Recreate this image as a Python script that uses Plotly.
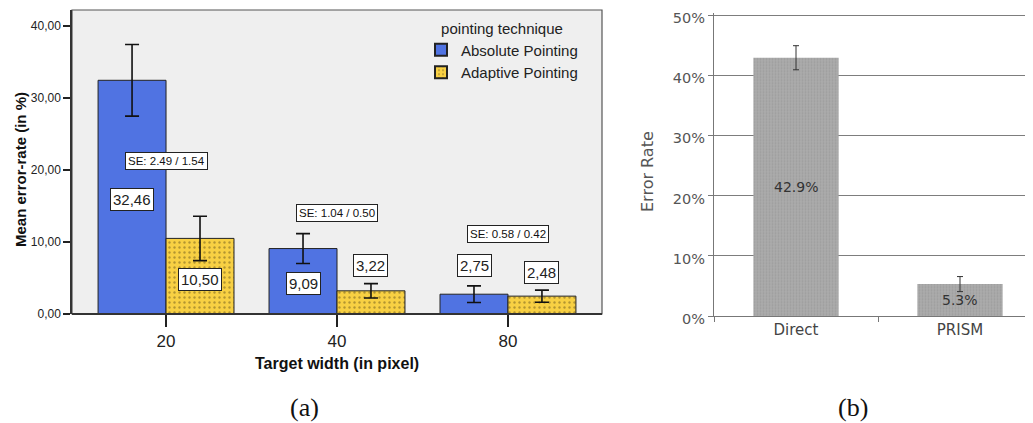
import plotly.graph_objects as go

# ---------------- data: panel (a) ----------------
widths = ["20", "40", "80"]
absolute_vals = [32.46, 9.09, 2.75]
adaptive_vals = [10.50, 3.22, 2.48]
absolute_se = [2.49, 1.04, 0.58]
adaptive_se = [1.54, 0.50, 0.42]
absolute_labels = ["32,46", "9,09", "2,75"]
adaptive_labels = ["10,50", "3,22", "2,48"]
se_labels = ["SE: 2.49 / 1.54", "SE: 1.04 / 0.50", "SE: 0.58 / 0.42"]
y_ticks_a = [0, 10, 20, 30, 40]
y_ticktext_a = ["0,00", "10,00", "20,00", "30,00", "40,00"]

# ---------------- data: panel (b) ----------------
techniques = ["Direct", "PRISM"]
error_rates = [0.429, 0.053]
error_err = [0.020, 0.0125]
rate_labels = ["42.9%", "5.3%"]
y_ticks_b = [0, 0.1, 0.2, 0.3, 0.4, 0.5]

# label placement (layout only)
abs_label_y = [15.97, 4.3, 6.67]
ada_label_y = [4.86, 6.67, 5.83]
se_label_y = [21.25, 14.0, 11.1]
rate_label_y = [0.214, 0.026]

# page body has an 8px margin: lay out in screen pixels, shifted by it
OFF = 8
W, H = 1033 - OFF, 423 - OFF


def px(x):
    return (x - OFF) / W


def py(y):
    return 1 - (y - OFF) / H


BLUE = "#5073e2"
YELLOW = "#f8d043"
SANS = "Liberation Sans, Arial, sans-serif"
VERD = "DejaVu Sans, Verdana, sans-serif"
SERIF = "Liberation Serif, DejaVu Serif, serif"

fig = go.Figure()

fig.add_trace(go.Bar(
    x=widths, y=absolute_vals, name="Absolute Pointing",
    marker=dict(color=BLUE, line=dict(color="#222", width=1)),
    error_y=dict(type="data", array=[2 * s for s in absolute_se],
                 color="#111", thickness=1.6, width=7),
    xaxis="x", yaxis="y",
))
fig.add_trace(go.Bar(
    x=widths, y=adaptive_vals, name="Adaptive Pointing",
    marker=dict(color=YELLOW, line=dict(color="#222", width=1),
                pattern=dict(shape=".", fgcolor="#6b5a1e", bgcolor=YELLOW,
                             size=5, solidity=0.18)),
    error_y=dict(type="data", array=[2 * s for s in adaptive_se],
                 color="#111", thickness=1.6, width=7),
    xaxis="x", yaxis="y",
))

fig.add_trace(go.Bar(
    x=techniques, y=error_rates, showlegend=False, width=0.52,
    marker=dict(color="#a6a6a6", line=dict(width=0),
                pattern=dict(shape=".", fgcolor="#8f8f8f", bgcolor="#ababab",
                             size=3, solidity=0.3)),
    error_y=dict(type="data", array=error_err, color="#333",
                 thickness=1, width=3),
    xaxis="x2", yaxis="y2",
))

# domains in paper coords (screen pixels of the reference)
xa0, xa1 = px(72), px(602)
ya0, ya1 = py(314), py(10)
xb0 = px(714)
B_TOP = 0.504
yb0, yb1 = py(316), py(316 - B_TOP * 602)

fig.update_layout(
    width=W, height=H,
    margin=dict(l=0, r=0, t=0, b=0, autoexpand=False),
    paper_bgcolor="white", plot_bgcolor="rgba(0,0,0,0)",
    barmode="group", bargap=0.205, bargroupgap=0,
    showlegend=True,
    legend=dict(
        x=px(421), y=py(14), xanchor="left", yanchor="top",
        bgcolor="rgba(0,0,0,0)", borderwidth=0,
        font=dict(family=SANS, size=15, color="#222"),
        title=dict(text="pointing technique", side="top center",
                   font=dict(family=SANS, size=15, color="#222")),
        itemsizing="constant", tracegroupgap=0,
    ),
    xaxis=dict(domain=[xa0, xa1], range=[-0.55, 2.55], type="category",
               showline=False, ticks="outside", ticklen=12, tickcolor="#222",
               tickwidth=1.5, automargin=False,
               tickfont=dict(family=SANS, size=17, color="#222"),
               showgrid=False, zeroline=False, anchor="y", fixedrange=True),
    yaxis=dict(domain=[ya0, ya1], range=[0, 304 / 7.2],
               tickvals=y_ticks_a, ticktext=y_ticktext_a,
               ticks="outside", ticklen=7, tickcolor="#222", tickwidth=1.5,
               automargin=False, ticklabeloverflow="allow",
               tickfont=dict(family=SANS, size=12, color="#222"),
               showline=True, linecolor="#333", linewidth=1.5,
               showgrid=False, zeroline=False, anchor="x", fixedrange=True),
    xaxis2=dict(domain=[xb0, 1], range=[-0.5, -0.5 + (1033 - 714) / 164],
                type="category", tickson="boundaries", automargin=False,
                ticks="outside", ticklen=5, tickcolor="#777",
                tickfont=dict(family=VERD, size=15, color="#444"),
                showline=True, linecolor="#777", linewidth=1,
                showgrid=False, zeroline=False, anchor="y2", fixedrange=True),
    yaxis2=dict(domain=[yb0, yb1], range=[0, B_TOP],
                tickvals=y_ticks_b, tickformat=".0%",
                ticks="outside", ticklen=5, tickcolor="#777",
                automargin=False, ticklabeloverflow="allow",
                ticklabelshift=3,
                tickfont=dict(family=VERD, size=14.5, color="#555"),
                showline=True, linecolor="#777", linewidth=1,
                showgrid=True, gridcolor="#7d7d7d", gridwidth=1,
                zeroline=False, anchor="x2", fixedrange=True),
)

# grey panel background and frame for (a)
fig.add_shape(type="rect", xref="paper", yref="paper",
              x0=xa0, x1=xa1, y0=ya0, y1=ya1,
              fillcolor="#efefef", line=dict(color="#555", width=1.2),
              layer="below")
fig.add_shape(type="line", xref="paper", yref="paper",
              x0=xa0, x1=xa1, y0=ya0, y1=ya0,
              line=dict(color="#333", width=1.8), layer="above")

ann = []
bw = 0.393 / 2  # half-offset of grouped bars in category units
for i, w in enumerate(widths):
    ann.append(dict(x=i - bw, y=abs_label_y[i], xref="x", yref="y",
                    xanchor="center", yanchor="middle",
                    text=absolute_labels[i], showarrow=False,
                    font=dict(family=SANS, size=15, color="#222"),
                    bgcolor="white", bordercolor="#222", borderwidth=1,
                    borderpad=2))
    ann.append(dict(x=i + bw, y=ada_label_y[i], xref="x", yref="y",
                    xanchor="center", yanchor="middle",
                    text=adaptive_labels[i], showarrow=False,
                    font=dict(family=SANS, size=15, color="#222"),
                    bgcolor="white", bordercolor="#222", borderwidth=1,
                    borderpad=2))
    ann.append(dict(x=i, y=se_label_y[i], xref="x", yref="y",
                    xanchor="center", yanchor="middle",
                    text=se_labels[i], showarrow=False,
                    font=dict(family=SANS, size=11.5, color="#111"),
                    bgcolor="white", bordercolor="#222", borderwidth=1,
                    borderpad=2))

for i, t in enumerate(techniques):
    ann.append(dict(x=i, y=rate_label_y[i], xref="x2", yref="y2",
                    xanchor="center", yanchor="middle",
                    text=rate_labels[i], showarrow=False,
                    font=dict(family=VERD, size=14, color="#333")))


def paper_text(x, y, text, font, angle=0):
    return dict(x=px(x), y=py(y), xref="paper", yref="paper",
                xanchor="center", yanchor="middle", text=text,
                textangle=angle, showarrow=False, font=font)


ann += [
    paper_text(20, 170, "<b>Mean error-rate (in %)</b>",
               dict(family=SANS, size=15, color="#111"), -90),
    paper_text(337, 363, "<b>Target width (in pixel)</b>",
               dict(family=SANS, size=16, color="#111")),
    paper_text(647, 172, "Error Rate",
               dict(family=VERD, size=16, color="#555"), -90),
    paper_text(304, 407, "(a)", dict(family=SERIF, size=26, color="#111")),
    paper_text(853, 407, "(b)", dict(family=SERIF, size=26, color="#111")),
]
fig.update_layout(annotations=ann)

fig.write_html("out.html")
